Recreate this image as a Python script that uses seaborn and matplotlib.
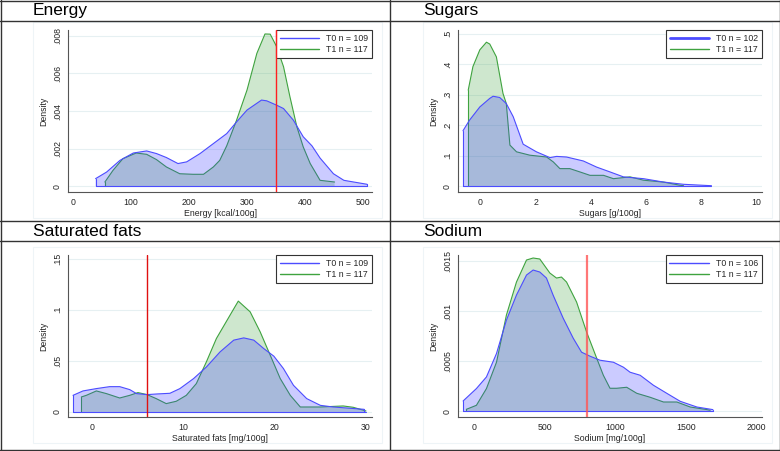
import numpy as np
import matplotlib.pyplot as plt
import seaborn as sns
from matplotlib.lines import Line2D
from matplotlib.patches import Rectangle

# density curves (x, density)
energy_x_t0 = [39, 58, 81, 104, 127, 144, 161, 181, 196, 219, 242, 265, 282, 300, 325, 334,
               351, 363, 380, 397, 412, 426, 449, 467, 484, 507]
energy_y_t0 = [.00041, .00076, .00138, .00177, .00188, .00174, .00153, .00121, .00130, .00174,
               .00227, .00280, .00342, .00405, .00458, .00454, .00431, .00413, .00351, .00263,
               .00215, .00150, .00067, .00032, .00023, .00011]
energy_x_t1 = [55, 69, 86, 109, 127, 144, 161, 184, 207, 225, 242, 253, 265, 282, 300, 317,
               331, 340, 351, 363, 374, 386, 397, 409, 426, 451]
energy_y_t1 = [.00023, .00085, .00147, .00177, .00170, .00142, .00103, .00067, .00064, .00064,
               .00103, .00138, .00215, .00351, .00511, .00706, .00809, .00808, .00742, .00635,
               .00476, .00316, .00209, .00121, .00032, .00023]

sugars_x_t0 = [-0.63, -0.39, -0.02, 0.34, 0.46, 0.70, 0.94, 1.19, 1.55, 2.03, 2.52, 2.76, 3.12,
               3.73, 4.21, 4.70, 5.18, 5.91, 6.63, 7.36, 8.37]
sugars_y_t0 = [.182, .217, .26, .288, .295, .291, .271, .228, .138, .113, .094, .098, .096,
               .083, .063, .047, .031, .025, .014, .0066, .002]
sugars_x_t1 = [-0.44, -0.27, -0.02, 0.22, 0.34, 0.58, 0.82, 0.94, 1.07, 1.31, 1.79, 2.40, 2.64,
               2.88, 3.24, 3.61, 3.97, 4.46, 4.82, 5.42, 5.91, 6.63, 7.24, 7.36]
sugars_y_t1 = [.315, .392, .447, .472, .466, .424, .304, .271, .135, .113, .102, .096, .080,
               .058, .058, .047, .036, .036, .025, .031, .020, .014, .0033, .002]

satfat_x_t0 = [-2.12, -1.03, 0.44, 1.9, 3.0, 4.1, 4.84, 6.0, 7.0, 8.5, 9.6, 11.1, 12.5, 14.0,
               15.5, 16.6, 17.7, 18.8, 19.9, 20.95, 22.05, 23.5, 25.0, 26.4, 27.9, 29.8]
satfat_y_t0 = [.0163, .0206, .0229, .0248, .0248, .0219, .018, .017, .0176, .0183, .0229, .0327,
               .044, .0588, .0703, .0725, .0703, .062, .0546, .0425, .0261, .0131, .0065, .0049,
               .0039, .0026]
satfat_x_t1 = [-1.21, -0.66, 0.44, 1.54, 3.0, 4.1, 5.0, 6.0, 7.0, 8.1, 9.2, 10.3, 11.4, 12.5,
               13.6, 15.1, 16.0, 17.3, 18.4, 19.5, 20.6, 21.7, 22.8, 25.0, 27.5, 28.6, 30.0]
satfat_y_t1 = [.0147, .0163, .0206, .018, .0137, .0163, .019, .017, .0131, .0082, .0105, .0163,
               .0278, .049, .0719, .0948, .1085, .098, .0784, .0556, .0327, .0163, .0049, .0049,
               .0059, .0046, .001]

sodium_x_t0 = [-75, 19, 90, 161, 231, 302, 373, 420, 467, 514, 561, 632, 703, 762, 822, 892,
               987, 1058, 1105, 1176, 1270, 1364, 1459, 1577, 1690]
sodium_y_t0 = [.000103, .000227, .000343, .000577, .00091, .00116, .00136, .00141, .00139,
               .00133, .00116, .00093, .00073, .00059, .00055, .00051, .00049, .00044, .00039,
               .00036, .00026, .00018, .0001, .000043, .000017]
sodium_x_t1 = [-52, 19, 90, 161, 231, 302, 373, 420, 467, 538, 585, 620, 656, 727, 798, 869,
               916, 963, 1010, 1081, 1152, 1247, 1341, 1435, 1530, 1648, 1671]
sodium_y_t1 = [.00002, .00006, .000227, .00049, .00096, .00129, .00151, .00153, .00152, .00138,
               .00133, .00134, .00129, .00109, .00079, .00053, .00036, .00023, .00023, .00024,
               .00018, .00014, .000093, .000093, .000043, .000017, .00001]

titles = ["Energy", "Sugars", "Saturated fats", "Sodium"]
xlabels = ["Energy [kcal/100g]", "Sugars [g/100g]", "Saturated fats [mg/100g]", "Sodium [mg/100g]"]
n_t0 = [109, 102, 109, 106]
n_t1 = [117, 117, 117, 117]
cutoffs = [350, None, 6, 800]
xticks = [[0, 100, 200, 300, 400, 500], [0, 2, 4, 6, 8, 10], [0, 10, 20, 30], [0, 500, 1000, 1500, 2000]]
yticks = [[0, .002, .004, .006, .008], [0, .1, .2, .3, .4, .5], [0, .05, .1, .15], [0, .0005, .001, .0015]]
xlims = [(-8.6, 515.5), (-0.81, 10.2), (-2.67, 30.66), (-111, 2037)]
ylims = [(-0.0003, 0.0083), (-0.0186, 0.512), (-0.0049, 0.1536), (-0.0000567, 0.00156)]

curves = [
    (energy_x_t0, energy_y_t0, energy_x_t1, energy_y_t1),
    (sugars_x_t0, sugars_y_t0, sugars_x_t1, sugars_y_t1),
    (satfat_x_t0, satfat_y_t0, satfat_x_t1, satfat_y_t1),
    (sodium_x_t0, sodium_y_t0, sodium_x_t1, sodium_y_t1),
]

sns.set_style("white")
plt.rcParams['font.family'] = ['Liberation Sans', 'DejaVu Sans']

W, H = 780, 451
fig = plt.figure(figsize=(7.8, 4.51), dpi=100)

# panel offsets in pixels (left, top)
offsets = [(0, 0), (390, 0), (0, 225), (390, 225)]
title_y = [10.5, 10.5, 231, 231]


def fmt(v):
    s = f"{v:g}"
    return s[1:] if s.startswith("0.") else s


blue = "#4c4cff"
green = "#3fa33f"
small = 6.3

for i in range(4):
    ox, oy = offsets[i]
    top = oy + 30
    bot = oy + 192
    ax = fig.add_axes([(ox + 68) / W, 1 - bot / H, 304 / W, (bot - top) / H])
    x0, y0, x1, y1 = curves[i]

    # T1 first, T0 area laid over it (so the green edge shows greyish underneath)
    ax.fill_between(x1, y1, 0, facecolor=green, alpha=0.25, edgecolor="none", zorder=2)
    sns.lineplot(x=x1, y=y1, ax=ax, color=green, lw=0.8, sort=False, zorder=3)
    ax.plot([x1[0], x1[0]], [0, y1[0]], color=green, lw=0.8, zorder=3)
    ax.fill_between(x0, y0, 0, facecolor="#3333ff", alpha=0.25, edgecolor="none", zorder=4)
    sns.lineplot(x=x0, y=y0, ax=ax, color=blue, lw=0.8, sort=False, zorder=5)
    ax.plot([x0[0], x0[0]], [0, y0[0]], color=blue, lw=0.8, zorder=5)
    ax.plot([x0[-1], x0[-1]], [0, y0[-1]], color=blue, lw=0.8, zorder=5)
    ax.plot([min(x0[0], x1[0]), max(x0[-1], x1[-1])], [0, 0], color=blue, lw=0.8, zorder=5)

    if cutoffs[i] is not None:
        if i == 3:
            ax.axvline(cutoffs[i], color="#ff5555", lw=1.6, alpha=0.8, zorder=6)
        elif i == 2:
            ax.axvline(cutoffs[i], color="#e01010", lw=1.0, zorder=6)
        else:
            ax.axvline(cutoffs[i], color="#ff2020", lw=1.0, zorder=6)

    ax.set_xlim(*xlims[i])
    ax.set_ylim(*ylims[i])
    ax.set_xticks(xticks[i])
    ax.set_yticks(yticks[i])
    ax.set_xticklabels([fmt(v) for v in xticks[i]], fontsize=small)
    ax.set_yticklabels([fmt(v) for v in yticks[i]], fontsize=small, rotation=90, va="center")
    ax.tick_params(axis="both", direction="out", length=3, width=0.6, color="#444444", pad=1.5)
    ax.yaxis.grid(True, color="#e6f0f2", lw=0.8)
    ax.set_axisbelow(True)
    for side in ["top", "right"]:
        ax.spines[side].set_visible(False)
    for side in ["left", "bottom"]:
        ax.spines[side].set_color("#555555")
        ax.spines[side].set_linewidth(0.8)
    ax.set_xlabel(xlabels[i], fontsize=small, labelpad=1.5)
    ax.set_ylabel("Density", fontsize=small, labelpad=3)

    handles = [Line2D([], [], color=blue, lw=1.0 if i != 1 else 2.0),
               Line2D([], [], color=green, lw=1.0)]
    leg = ax.legend(handles, [f"T0 n = {n_t0[i]}", f"T1 n = {n_t1[i]}"],
                    loc="upper right", bbox_to_anchor=(1.0, 1.0), fontsize=small,
                    handlelength=4.5, fancybox=False, framealpha=1, edgecolor="#333333",
                    borderpad=0.45, labelspacing=0.2, handletextpad=0.8, borderaxespad=0)
    leg.get_frame().set_linewidth(0.8)

    # faint plot region box
    fig.add_artist(Rectangle(((ox + 33) / W, 1 - (oy + 218) / H), 349 / W, 196 / H,
                             transform=fig.transFigure, fill=False, edgecolor="#eef4f7",
                             lw=0.8, zorder=-1))
    # panel title
    fig.text((ox + 33) / W, 1 - title_y[i] / H, titles[i], fontsize=12.5,
             va="center", ha="left", color="black")

# frame lines between panels
line_kw = dict(color="#333333", lw=1.0, transform=fig.transFigure)
for y in [0.5, 21, 220.5, 241, 450]:
    fig.add_artist(Line2D([0, 1], [1 - y / H, 1 - y / H], **line_kw))
for x in [0.5, 390, 779.5]:
    fig.add_artist(Line2D([x / W, x / W], [0, 1], **line_kw))

fig.savefig("out.png", dpi=100)
